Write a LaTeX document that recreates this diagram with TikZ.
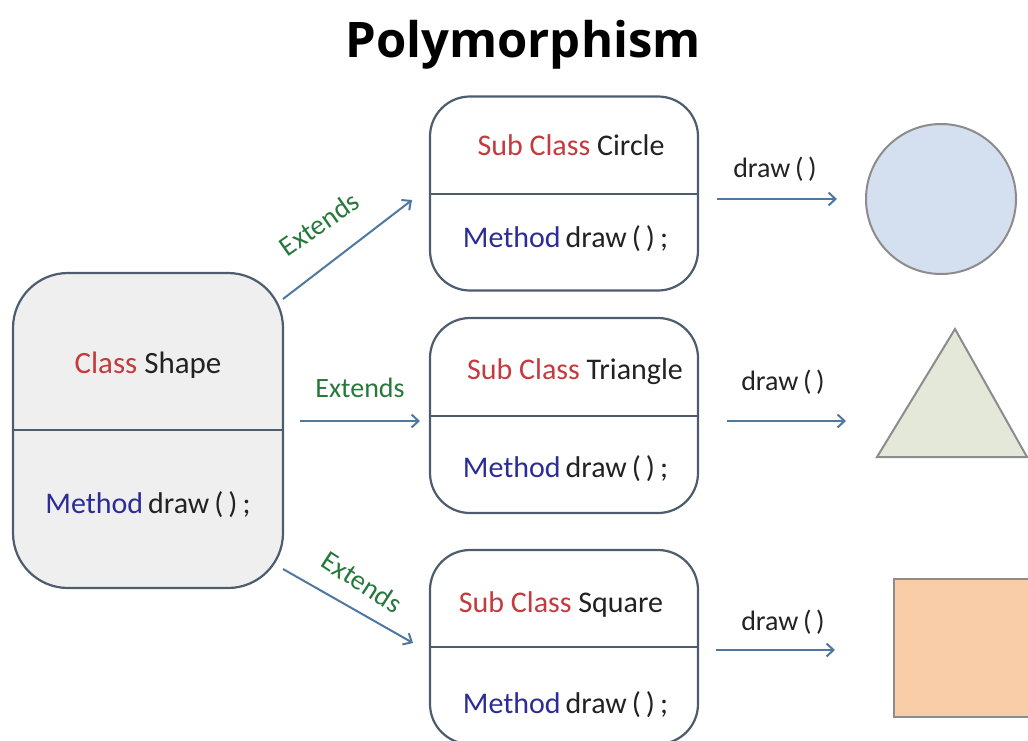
\documentclass[tikz,border=0pt]{standalone}
\usepackage{fontspec}
\setmainfont{Carlito}
\newfontfamily\titlefont{Open Sans}
\usetikzlibrary{arrows.meta}
\definecolor{boxedge}{RGB}{77,93,109}
\definecolor{shapefill}{RGB}{239,239,239}
\definecolor{kwred}{RGB}{196,58,62}
\definecolor{kwblue}{RGB}{44,44,150}
\definecolor{txtdark}{RGB}{34,34,34}
\definecolor{extgreen}{RGB}{40,120,60}
\definecolor{arrowblue}{RGB}{79,120,160}
\definecolor{circfill}{RGB}{212,224,240}
\definecolor{trifill}{RGB}{228,232,216}
\definecolor{sqfill}{RGB}{249,205,168}
\definecolor{figedge}{RGB}{140,140,140}
\begin{document}
\begin{tikzpicture}[x=1pt,y=-1pt,
  classbox/.style={draw=boxedge, line width=2.2pt, rectangle, inner sep=0pt},
  divider/.style={draw=boxedge, line width=2.2pt},
  boxtext/.style={anchor=base, inner sep=0pt, font=\fontsize{30}{36}\selectfont, text=txtdark},
  conn/.style={draw=arrowblue, line width=2pt, -{Straight Barb[length=7pt,width=13pt,line width=2pt]}},
  extlabel/.style={inner sep=0pt, font=\fontsize{28}{34}\selectfont, text=extgreen},
  drawlabel/.style={anchor=base, inner sep=0pt, font=\fontsize{28}{33}\selectfont, text=txtdark},
  figure/.style={draw=figedge, line width=2pt}]
\useasboundingbox (0,0) rectangle (1028,740);
\clip (0,0) rectangle (1028,740);

% title
\node[anchor=base, inner sep=0pt, font=\titlefont\bfseries\fontsize{49}{58}\selectfont] (title) at (523,57) {Polymorphism};

% base class
\node[classbox, fill=shapefill, rounded corners=55pt, minimum width=270pt, minimum height=315pt] (shape) at (148,430.5) {};
\coordinate (shapediv) at (148,430);
\draw[divider] (shape.west |- shapediv) -- (shape.east |- shapediv);
\node[boxtext, font=\fontsize{31}{37}\selectfont] (shapename) at (148,373) {\textcolor{kwred}{Class} Shape};
\node[boxtext] (shapemeth) at (148,513) {\textcolor{kwblue}{Method}\,draw\,(\,)\,;};

% sub classes
\node[classbox, fill=white, rounded corners=40pt, minimum width=268pt, minimum height=194pt] (circbox) at (564,193.5) {};
\coordinate (circdiv) at (564,194);
\draw[divider] (circbox.west |- circdiv) -- (circbox.east |- circdiv);
\node[boxtext] (circname) at (571,155) {\textcolor{kwred}{Sub Class} Circle};
\node[boxtext] (circmeth) at (565.5,247) {\textcolor{kwblue}{Method}\,draw\,(\,)\,;};

\node[classbox, fill=white, rounded corners=40pt, minimum width=268pt, minimum height=195pt] (tribox) at (564,415.5) {};
\coordinate (tridiv) at (564,416);
\draw[divider] (tribox.west |- tridiv) -- (tribox.east |- tridiv);
\node[boxtext] (triname) at (575,379) {\textcolor{kwred}{Sub Class} Triangle};
\node[boxtext] (trimeth) at (565.5,477) {\textcolor{kwblue}{Method}\,draw\,(\,)\,;};

\node[classbox, fill=white, rounded corners=40pt, minimum width=268pt, minimum height=194pt] (sqbox) at (564,647) {};
\coordinate (sqdiv) at (564,647);
\draw[divider] (sqbox.west |- sqdiv) -- (sqbox.east |- sqdiv);
\node[boxtext] (sqname) at (561,612) {\textcolor{kwred}{Sub Class} Square};
\node[boxtext] (sqmeth) at (565.5,713) {\textcolor{kwblue}{Method}\,draw\,(\,)\,;};

% extends connectors
\coordinate (e1s) at (283,299); \coordinate (e1e) at (412,200);
\coordinate (e2s) at (300,421); \coordinate (e2e) at (420,421);
\coordinate (e3s) at (283,569); \coordinate (e3e) at (413,643);
\draw[conn] (e1s) -- (e1e);
\draw[conn] (e2s) -- (e2e);
\draw[conn] (e3s) -- (e3e);
\node[extlabel, rotate=35] (ext1) at (319,224) {Extends};
\node[extlabel] (ext2) at (360,388) {Extends};
\node[extlabel, rotate=-33] (ext3) at (362,582) {Extends};

% draw() connectors
\coordinate (d1s) at (717,199); \coordinate (d1e) at (837,199);
\coordinate (d2s) at (727,421); \coordinate (d2e) at (846,421);
\coordinate (d3s) at (716,650); \coordinate (d3e) at (835,650);
\draw[conn] (d1s) -- (d1e);
\draw[conn] (d2s) -- (d2e);
\draw[conn] (d3s) -- (d3e);
\node[drawlabel] (dl1) at (775,177) {draw\,(\,)};
\node[drawlabel] (dl2) at (783,390) {draw\,(\,)};
\node[drawlabel] (dl3) at (783,630) {draw\,(\,)};

% figures
\node[figure, circle, fill=circfill, minimum size=150pt, inner sep=0pt] (circ) at (941,199) {};
\draw[figure, fill=trifill] (955,329) -- (1027,457) -- (877,457) -- cycle;
\draw[figure, fill=sqfill] (894,579) rectangle (1040,717);
\end{tikzpicture}
\end{document}
